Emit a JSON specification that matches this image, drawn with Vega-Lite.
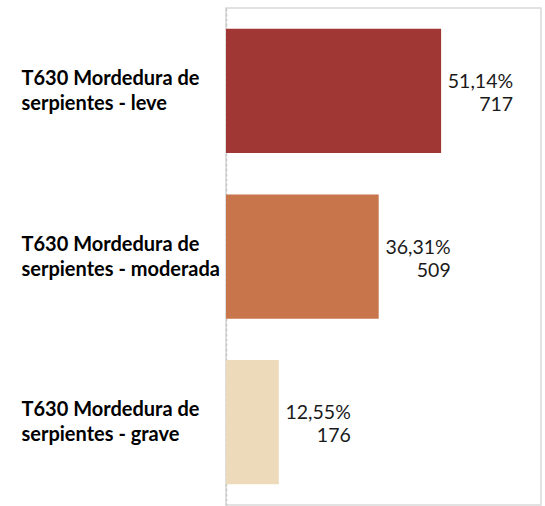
{
  "$schema": "https://vega.github.io/schema/vega-lite/v6.json",
  "autosize": "none",
  "width": 315,
  "height": 497,
  "padding": {"left": 226, "top": 8, "right": 4, "bottom": 1},
  "background": "white",
  "config": {
    "view": {"stroke": "#d9d9d9", "strokeWidth": 1.5},
    "font": "Lato"
  },
  "data": {
    "values": [
      {"categoria": "T630 Mordedura de serpientes - leve", "casos": 717, "pct": "51,14%"},
      {"categoria": "T630 Mordedura de serpientes - moderada", "casos": 509, "pct": "36,31%"},
      {"categoria": "T630 Mordedura de serpientes - grave", "casos": 176, "pct": "12,55%"}
    ]
  },
  "transform": [
    {"calculate": "datum.pct + '\\n' + datum.casos", "as": "etiqueta"}
  ],
  "encoding": {
    "y": {
      "field": "categoria",
      "type": "nominal",
      "sort": null,
      "scale": {"paddingInner": 0.25, "paddingOuter": 0.125},
      "axis": {
        "title": null,
        "ticks": false,
        "domainColor": "#c8c8c8",
        "domainDash": [3, 2],
        "domainWidth": 1.5,
        "labelAlign": "left",
        "labelBaseline": "middle",
        "labelPadding": 205,
        "labelOffset": -12,
        "labelLimit": 240,
        "labelFont": "Lato",
        "labelFontWeight": "bold",
        "labelFontSize": 20,
        "labelColor": "#000000",
        "labelLineHeight": 25,
        "labelExpr": "split(replace(datum.value, 'de serpientes', 'de|serpientes'), '|')"
      }
    },
    "x": {
      "field": "casos",
      "type": "quantitative",
      "scale": {"domain": [0, 1050]},
      "axis": null
    }
  },
  "layer": [
    {
      "mark": {"type": "bar"},
      "encoding": {
        "color": {
          "field": "categoria",
          "type": "nominal",
          "sort": null,
          "scale": {
            "domain": [
              "T630 Mordedura de serpientes - leve",
              "T630 Mordedura de serpientes - moderada",
              "T630 Mordedura de serpientes - grave"
            ],
            "range": ["#A03734", "#C8754B", "#EDDABA"]
          },
          "legend": null
        }
      }
    },
    {
      "mark": {
        "type": "text",
        "align": "right",
        "baseline": "middle",
        "dx": 72,
        "dy": -9,
        "lineBreak": "\n",
        "lineHeight": 23,
        "font": "Lato",
        "fontSize": 19.5,
        "color": "#1a1a1a"
      },
      "encoding": {"text": {"field": "etiqueta"}}
    }
  ]
}
